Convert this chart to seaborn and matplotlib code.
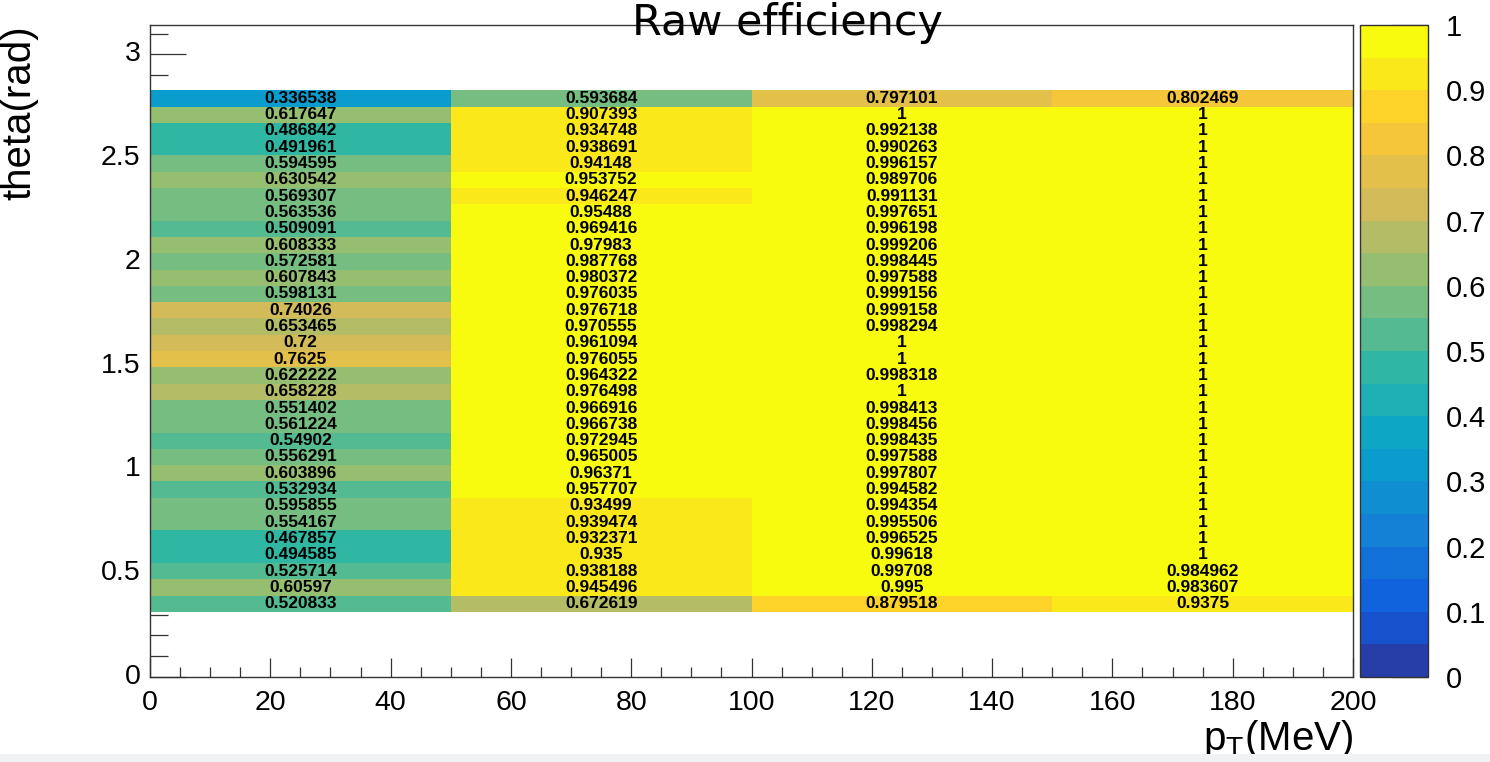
import numpy as np
import pandas as pd
import matplotlib
matplotlib.use("Agg")
import matplotlib.pyplot as plt
import seaborn as sns
from matplotlib.colors import LinearSegmentedColormap, ListedColormap
from matplotlib.patches import Rectangle

# ---------------- data ----------------
p_edges = [0, 50, 100, 150, 200]          # MeV
n_theta_bins = 40                          # bins of pi/40 from 0 to pi
first_filled_bin = 4                       # lowest filled theta bin
# efficiencies per p bin, listed from the highest theta bin (top row) downward
eff_p0_50 = [0.336538, 0.617647, 0.486842, 0.491961, 0.594595, 0.630542, 0.569307, 0.563536,
             0.509091, 0.608333, 0.572581, 0.607843, 0.598131, 0.74026, 0.653465, 0.72,
             0.7625, 0.622222, 0.658228, 0.551402, 0.561224, 0.54902, 0.556291, 0.603896,
             0.532934, 0.595855, 0.554167, 0.467857, 0.494585, 0.525714, 0.60597, 0.520833]
eff_p50_100 = [0.593684, 0.907393, 0.934748, 0.938691, 0.94148, 0.953752, 0.946247, 0.95488,
               0.969416, 0.97983, 0.987768, 0.980372, 0.976035, 0.976718, 0.970555, 0.961094,
               0.976055, 0.964322, 0.976498, 0.966916, 0.966738, 0.972945, 0.965005, 0.96371,
               0.957707, 0.93499, 0.939474, 0.932371, 0.935, 0.938188, 0.945496, 0.672619]
eff_p100_150 = [0.797101, 1, 0.992138, 0.990263, 0.996157, 0.989706, 0.991131, 0.997651,
                0.996198, 0.999206, 0.998445, 0.997588, 0.999156, 0.999158, 0.998294, 1,
                1, 0.998318, 1, 0.998413, 0.998456, 0.998435, 0.997588, 0.997807,
                0.994582, 0.994354, 0.995506, 0.996525, 0.99618, 0.99708, 0.995, 0.879518]
eff_p150_200 = [0.802469, 1, 1, 1, 1, 1, 1, 1,
                1, 1, 1, 1, 1, 1, 1, 1,
                1, 1, 1, 1, 1, 1, 1, 1,
                1, 1, 1, 1, 1, 0.984962, 0.983607, 0.9375]
x_ticks = [0, 20, 40, 60, 80, 100, 120, 140, 160, 180, 200]
y_ticks = [0, 0.5, 1, 1.5, 2, 2.5, 3]
z_ticks = [0, 0.1, 0.2, 0.3, 0.4, 0.5, 0.6, 0.7, 0.8, 0.9, 1]
title = "Raw efficiency"
x_label = r"p$_{\mathrm{T}}$(MeV)"
y_label = "theta(rad)"

# ---------------- build grid ----------------
cols = [eff_p0_50, eff_p50_100, eff_p100_150, eff_p150_200]
grid = np.full((n_theta_bins, len(cols)), np.nan)
n_filled = len(eff_p0_50)
for j, c in enumerate(cols):
    vals = np.array(c[::-1], dtype=float)   # low theta first
    grid[first_filled_bin:first_filled_bin + n_filled, j] = vals
df = pd.DataFrame(grid, columns=[f"{a}-{b}" for a, b in zip(p_edges[:-1], p_edges[1:])])
theta_w = np.pi / n_theta_bins
p_w = p_edges[1] - p_edges[0]

# ---------------- ROOT kBird palette, 20 contours ----------------
stops = [0.0, 0.125, 0.25, 0.375, 0.5, 0.625, 0.75, 0.875, 1.0]
red = [0.2082, 0.0592, 0.0780, 0.0232, 0.1802, 0.5301, 0.8186, 0.9956, 0.9764]
green = [0.1664, 0.3599, 0.5041, 0.6419, 0.7178, 0.7492, 0.7328, 0.7862, 0.9832]
blue = [0.5293, 0.8684, 0.8385, 0.7914, 0.6425, 0.4662, 0.3499, 0.1968, 0.0539]
bird = LinearSegmentedColormap.from_list(
    "bird", [(s, (r, g, b)) for s, r, g, b in zip(stops, red, green, blue)])
ndiv, ncol = 20, 255
band_colors = [bird(int((i + 0.99) * ncol / ndiv) / (ncol - 1)) for i in range(ndiv)]
cmap = ListedColormap(band_colors)

# ---------------- figure ----------------
sns.set_style("white")
plt.rcParams["font.family"] = ["Liberation Sans", "DejaVu Sans"]
plt.rcParams["mathtext.fontset"] = "custom"
plt.rcParams["mathtext.rm"] = "Liberation Sans"
plt.rcParams["mathtext.it"] = "Liberation Sans:italic"
for k in ["text.color", "axes.labelcolor", "xtick.color", "ytick.color"]:
    plt.rcParams[k] = "black"

W, H = 1490, 762
fig = plt.figure(figsize=(W / 100, H / 100), dpi=100)
ax_l, ax_r, ax_t, ax_b = 150, 1353, 25, 677
ax = fig.add_axes([ax_l / W, 1 - ax_b / H, (ax_r - ax_l) / W, (ax_b - ax_t) / H])
cax = fig.add_axes([1360 / W, 1 - ax_b / H, 68 / W, (ax_b - ax_t) / H])

sns.heatmap(df, ax=ax, cmap=cmap, vmin=0, vmax=1, annot=True, fmt="g",
            annot_kws={"color": "black", "fontsize": 12.5, "fontweight": "bold",
                       "family": "Liberation Sans"},
            cbar_ax=cax, linewidths=0)

ax.set_ylim(0, n_theta_bins)
ax.set_xlim(0, len(cols))
for s in ax.spines.values():
    s.set_visible(True)
    s.set_linewidth(1.0)
    s.set_color("#333333")

ax.set_xticks([v / p_w for v in x_ticks])
ax.set_xticklabels([f"{v:g}" for v in x_ticks], rotation=0)
ax.set_xticks([v / p_w for v in np.arange(0, 201, 5)], minor=True)
ax.set_yticks([v / theta_w for v in y_ticks])
ax.set_yticklabels([f"{v:g}" for v in y_ticks], rotation=0)
ax.set_yticks([v / theta_w for v in np.arange(0, 3.15, 0.1)], minor=True)
ax.set_xlabel("")
ax.set_ylabel("")

ax.tick_params(axis="x", which="major", direction="in", length=14, width=0.9,
               color="#333333", labelcolor="black", labelsize=20.5, pad=9, bottom=True)
ax.tick_params(axis="x", which="minor", direction="in", length=7, width=0.9,
               color="#333333", bottom=True)
ax.tick_params(axis="y", which="major", direction="in", length=26, width=0.9,
               color="#333333", labelcolor="black", labelsize=20.5, pad=7, left=True)
ax.tick_params(axis="y", which="minor", direction="in", length=13, width=0.9,
               color="#333333", left=True)

cbar = ax.collections[0].colorbar
cbar.set_ticks(z_ticks)
cbar.set_ticklabels([f"{v:g}" for v in z_ticks])
cbar.outline.set_edgecolor("#333333")
cbar.outline.set_linewidth(1.0)
cax.tick_params(which="major", direction="in", length=26, width=0.9, color="#333333",
                labelcolor="black", labelsize=21, pad=13, right=True)
cax.tick_params(which="minor", length=0)

fig.text(788 / W, 1 - 35 / H, title, family="DejaVu Sans", fontsize=31,
         color="black", ha="center", va="baseline")
fig.text(ax_r / W, 1 - 750 / H, x_label, fontsize=29, color="black",
         ha="right", va="baseline")
fig.text(19 / W, 1 - 25 / H, y_label, fontsize=29, color="black",
         rotation=90, ha="center", va="top")

fig.add_artist(Rectangle((0, 0), 1, 8 / H, transform=fig.transFigure,
                         facecolor="#f1f2f4", edgecolor="none", zorder=20))

fig.savefig("out.png", dpi=100)
